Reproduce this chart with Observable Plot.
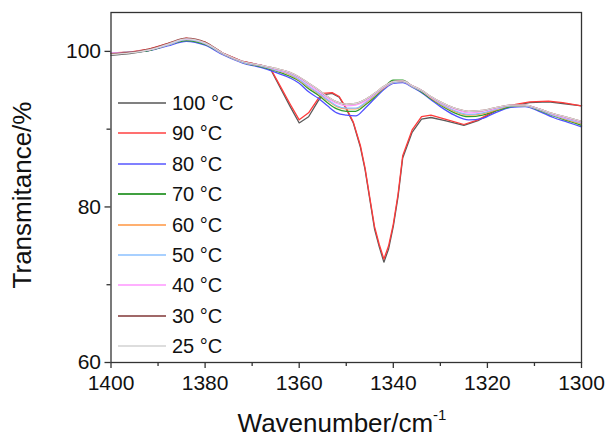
<!DOCTYPE html>
<html><head><meta charset="utf-8">
<script src="https://cdn.jsdelivr.net/npm/d3@7"></script>
<script src="https://cdn.jsdelivr.net/npm/@observablehq/plot@0.6"></script>
<style>
body{margin:0;background:#fff;}
#wrap{position:relative;width:608px;height:439px;font-family:"Liberation Sans",Arial,sans-serif;color:#111;}
#wrap svg{position:absolute;left:0;top:0;}
.ytitle{position:absolute;left:22px;top:195px;transform:translate(-50%,-50%) rotate(-90deg);font-size:26px;white-space:nowrap;}
.xtitle{position:absolute;left:342px;top:408px;transform:translateX(-50%);font-size:26px;white-space:nowrap;line-height:30px;}
.xtitle sup{font-size:15px;vertical-align:0;position:relative;top:-12px;}
.legend{position:absolute;left:118px;top:88px;}
.legend .row{position:absolute;left:0;height:30px;width:130px;font-size:20px;white-space:nowrap;}
.legend .sw{position:absolute;left:0;width:48px;top:14px;height:0;border-top:2px solid;}
.legend .lab{position:absolute;left:54px;top:2px;line-height:26px;}
</style></head><body><div id="wrap"></div>
<script>
// Smooth group (80 °C ... 25 °C)
const wnA = [1400,1396,1392,1388,1384,1380,1376,1372,1368,1365,1362,1360,1358,1356,1354,1352,1350,1348,1346,1344,1342,1340,1338,1336,1334,1332,1330,1327,1324,1321,1318,1315,1312,1309,1306,1303,1300];
const t80 = [99.8,99.9,100.1,100.7,101.3,100.8,99.5,98.5,97.9,97.3,96.6,95.9,94.8,94.0,93.0,92.1,91.8,91.7,92.7,93.9,95.1,95.9,96.0,95.4,94.7,93.8,92.9,91.8,91.2,91.4,92.2,92.8,92.9,92.3,91.5,90.9,90.3];
const t70 = [99.8,99.9,100.1,100.8,101.4,100.9,99.6,98.6,98.0,97.5,96.8,96.2,95.2,94.4,93.4,92.6,92.3,92.3,93.1,94.1,95.3,96.3,96.3,95.5,94.8,93.9,93.1,92.1,91.6,91.8,92.4,92.9,93.0,92.4,91.7,91.1,90.5];
const t60 = [99.8,99.9,100.2,100.8,101.5,101.0,99.6,98.6,98.1,97.6,97.0,96.3,95.4,94.6,93.7,92.9,92.6,92.6,93.3,94.3,95.3,96.0,96.1,95.5,94.9,94.0,93.2,92.3,91.8,92.0,92.5,93.0,93.0,92.5,91.8,91.2,90.7];
const t50 = [99.8,99.9,100.2,100.8,101.5,101.0,99.6,98.6,98.1,97.6,97.1,96.4,95.5,94.7,93.8,93.0,92.7,92.7,93.4,94.4,95.4,96.0,96.1,95.5,94.9,94.1,93.3,92.4,91.9,92.1,92.6,93.0,93.0,92.5,91.8,91.3,90.8];
const t40 = [99.8,99.9,100.2,100.9,101.6,101.1,99.7,98.7,98.2,97.7,97.2,96.6,95.7,94.9,94.0,93.3,93.0,93.1,93.6,94.5,95.4,96.1,96.2,95.6,95.0,94.1,93.4,92.6,92.1,92.3,92.7,93.1,93.1,92.6,91.9,91.4,90.9];
const t30 = [99.7,99.9,100.3,101.0,101.7,101.2,99.7,98.7,98.2,97.8,97.3,96.7,95.9,95.1,94.2,93.5,93.2,93.3,93.8,94.6,95.5,96.1,96.2,95.6,95.0,94.2,93.5,92.7,92.3,92.4,92.8,93.1,93.1,92.6,92.0,91.5,91.0];
const t25 = [99.6,99.8,100.2,100.9,101.6,101.1,99.7,98.7,98.2,97.8,97.3,96.7,95.9,95.1,94.2,93.5,93.2,93.3,93.8,94.6,95.5,96.1,96.2,95.6,95.0,94.2,93.5,92.7,92.3,92.4,92.8,93.1,93.1,92.6,92.0,91.5,91.0];
// Group with strong band (100 °C, 90 °C)
const wnB = [1400,1396,1392,1388,1384,1380,1376,1372,1368,1366,1364,1362,1360,1358,1356,1355,1353,1351.5,1350,1348.5,1347,1346,1345,1344,1343,1342,1341,1340,1339,1338,1336,1334,1332,1329,1325,1322,1318,1314,1311,1307,1304,1300];
const t100 = [99.5,99.7,100.1,100.8,101.5,101.1,99.7,98.7,98.2,97.6,95.3,93.0,90.8,91.6,93.6,94.4,94.6,94.1,92.6,90.8,87.7,84.8,81.0,77.2,74.9,72.9,74.6,77.5,81.3,86.3,89.6,91.3,91.5,91.1,90.5,91.1,92.4,93.1,93.4,93.5,93.3,93.0];
const t90 = [99.8,99.9,100.3,101.0,101.7,101.2,99.7,98.7,98.2,97.7,95.5,93.3,91.2,92.1,93.9,94.6,94.7,94.2,92.7,90.9,87.9,85.0,81.2,77.5,75.2,73.3,75.0,77.8,81.6,86.6,89.9,91.6,91.8,91.3,90.6,91.2,92.5,93.2,93.5,93.6,93.4,93.0];

const seriesNames = ["100 °C","90 °C","80 °C","70 °C","60 °C","50 °C","40 °C","30 °C","25 °C"];
const seriesColors = ["#5a5a5a","#ff3a3a","#5050ff","#2e9e2e","#ffa050","#8cc0ff","#ff99ff","#a04848","#d8d8d8"];
const legendColors = ["#808080","#ff7070","#8080ff","#40a040","#ffb070","#a8d0ff","#ffb0ff","#a06868","#dddddd"];
const seriesWn = [wnB,wnB,wnA,wnA,wnA,wnA,wnA,wnA,wnA];
const seriesT = [t100,t90,t80,t70,t60,t50,t40,t30,t25];

const xTicks = [1400,1380,1360,1340,1320,1300];
const xMinor = [1390,1370,1350,1330,1310];
const yTicks = [60,80,100];
const yMinor = [70,90];

const marks = [];
seriesNames.forEach((name,i)=>{
  const rows = seriesWn[i].map((w,j)=>({wn:w,t:seriesT[i][j]}));
  marks.push(Plot.line(rows,{x:"wn",y:"t",stroke:seriesColors[i],strokeWidth:1.3,curve: i<2 ? "linear" : "monotone-x"}));
});

const chart = Plot.plot({
  width:608, height:439,
  marginLeft:110.5, marginRight:27, marginTop:12, marginBottom:77,
  style:{fontFamily:"'Liberation Sans', Arial, sans-serif", background:"transparent"},
  x:{domain:[1400,1300]},
  y:{domain:[60,105]},
  marks:[
    ...marks,
    Plot.frame({stroke:"#333",strokeWidth:1.3}),
    Plot.axisX({ticks:xTicks, tickSize:6, tickPadding:7, fontSize:21, label:null, stroke:"#333", strokeWidth:1.3, fill:"#111", tickFormat:d=>String(d)}),
    Plot.axisX({ticks:xMinor, tickSize:4, text:null, label:null, stroke:"#333", strokeWidth:1.3}),
    Plot.axisY({ticks:yTicks, tickSize:6, tickPadding:4, fontSize:21, label:null, stroke:"#333", strokeWidth:1.3, fill:"#111", tickFormat:d=>String(d)}),
    Plot.axisY({ticks:yMinor, tickSize:4, text:null, label:null, stroke:"#333", strokeWidth:1.3})
  ]
});

const wrap = document.getElementById("wrap");
wrap.appendChild(chart);

const yt = document.createElement("div");
yt.className="ytitle"; yt.textContent="Transmitance/%";
wrap.appendChild(yt);
const xt = document.createElement("div");
xt.className="xtitle"; xt.innerHTML="Wavenumber/cm<sup>-1</sup>";
wrap.appendChild(xt);

const leg = document.createElement("div");
leg.className="legend";
seriesNames.forEach((name,i)=>{
  const r=document.createElement("div");
  r.className="row"; r.style.top=(i*30.4)+"px";
  const sw=document.createElement("div"); sw.className="sw"; sw.style.borderTopColor=legendColors[i];
  const lb=document.createElement("div"); lb.className="lab"; lb.textContent=name;
  r.appendChild(sw); r.appendChild(lb); leg.appendChild(r);
});
wrap.appendChild(leg);
</script></body></html>
